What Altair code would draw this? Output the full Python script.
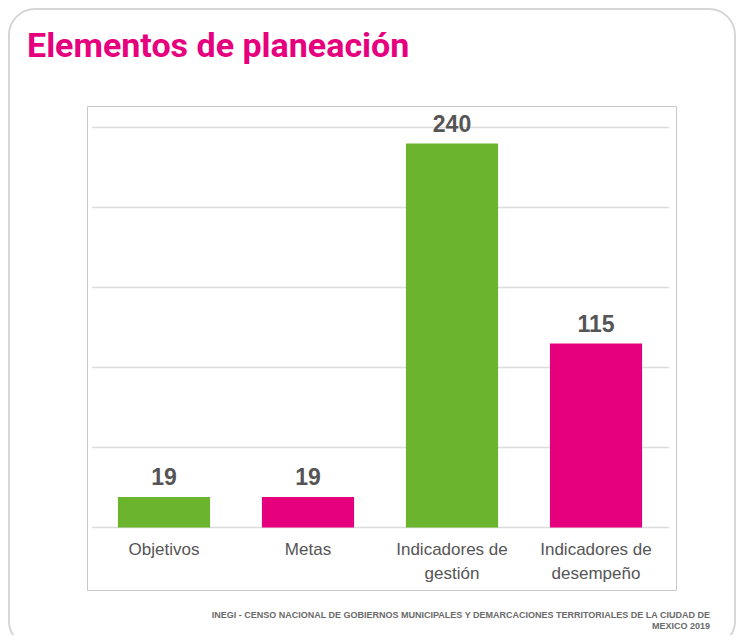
import altair as alt
import pandas as pd

# ---- data ----
categories = ["Objetivos", "Metas", "Indicadores de\ngestión", "Indicadores de\ndesempeño"]
values = [19, 19, 240, 115]
bar_colors = ["#6BB42D", "#E6007E", "#6BB42D", "#E6007E"]
grid_values = [0, 50, 100, 150, 200, 250]
title_text = "Elementos de planeación"
source_lines = [
    "INEGI - CENSO NACIONAL DE GOBIERNOS MUNICIPALES Y DEMARCACIONES TERRITORIALES DE LA CIUDAD DE",
    "MEXICO 2019",
]

W, H = 728, 627

df = pd.DataFrame({"cat": categories, "value": values, "color": bar_colors})
grid_df = pd.DataFrame({"v": grid_values})

xscale = alt.Scale(domain=categories, range=[84, 660], paddingInner=0.36, paddingOuter=0.18)
yscale = alt.Scale(domain=[0, 250], range=[519.5, 119.5])

one = alt.Data(values=[{"a": 1}])

card = alt.Chart(one).mark_rect(
    fill="white", stroke="#d6d6d6", strokeWidth=2, cornerRadius=26
).encode(x=alt.value(1), x2=alt.value(W - 1), y=alt.value(1), y2=alt.value(H + 12))

box = alt.Chart(one).mark_rect(
    fill="white", stroke="#c9c9c9", strokeWidth=1
).encode(x=alt.value(79.5), x2=alt.value(668.5), y=alt.value(98.5), y2=alt.value(582.5))

grid = alt.Chart(grid_df).mark_rule(color="#dcdcdc", strokeWidth=1.5).encode(
    y=alt.Y("v:Q", scale=yscale, axis=None),
    x=alt.value(84),
    x2=alt.value(661),
)

bars = alt.Chart(df).mark_bar().encode(
    x=alt.X("cat:N", scale=xscale, axis=None, sort=categories),
    y=alt.Y("value:Q", scale=yscale, axis=None),
    color=alt.Color("color:N", scale=None, legend=None),
)

vlabels = alt.Chart(df).mark_text(
    font="Liberation Sans", fontSize=23, fontWeight="bold", color="#555555",
    baseline="alphabetic", dy=-12,
).encode(
    x=alt.X("cat:N", scale=xscale, axis=None, sort=categories),
    y=alt.Y("value:Q", scale=yscale, axis=None),
    text=alt.Text("value:Q"),
)

clabels = alt.Chart(df).mark_text(
    font="Liberation Sans", fontSize=17, color="#555555",
    baseline="top", lineBreak="\n", lineHeight=24,
).encode(
    x=alt.X("cat:N", scale=xscale, axis=None, sort=categories),
    y=alt.value(534),
    text="cat:N",
)

title = alt.Chart(alt.Data(values=[{"t": title_text}])).mark_text(
    font="Roboto", fontSize=34, fontWeight="bold", color="#E6007E",
    align="left", baseline="alphabetic",
).encode(x=alt.value(19), y=alt.value(49), text="t:N")

source = alt.Chart(alt.Data(values=[{"t": "\n".join(source_lines)}])).mark_text(
    font="Liberation Sans", fontSize=9, fontWeight="bold", color="#6a6a6a",
    align="right", baseline="alphabetic", lineBreak="\n", lineHeight=11,
).encode(x=alt.value(702), y=alt.value(610), text="t:N")

chart = alt.layer(card, box, grid, bars, vlabels, clabels, title, source).properties(
    width=W, height=H,
    autosize=alt.AutoSizeParams(type="none"),
    padding=0,
).configure_view(stroke=None)

chart.save("out.html", embed_options={"renderer": "svg", "actions": False})
